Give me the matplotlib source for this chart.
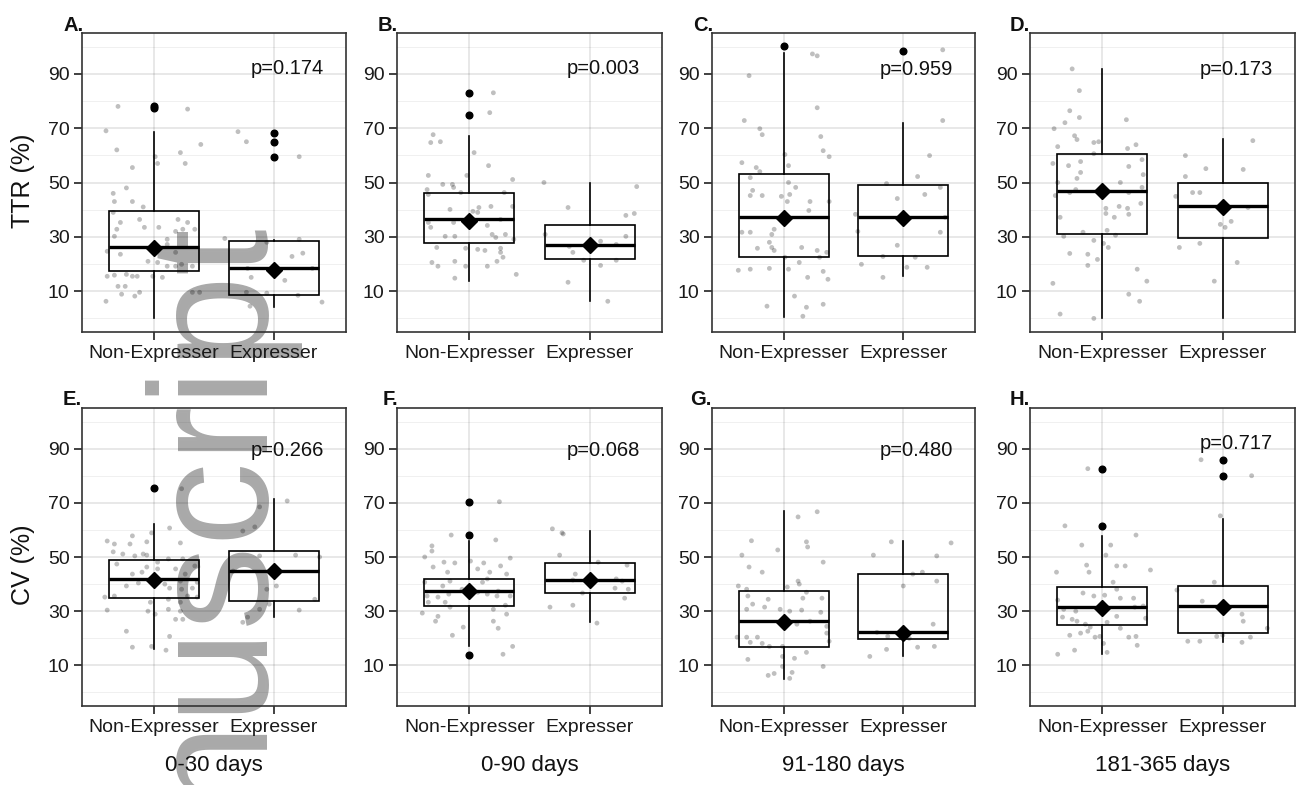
import matplotlib
matplotlib.use("Agg")
import matplotlib.pyplot as plt

plt.rcParams['font.family'] = ['Liberation Sans', 'DejaVu Sans']

# ---------------- data ----------------
categories = ["Non-Expresser", "Expresser"]
panel_tags = ["A.", "B.", "C.", "D.", "E.", "F.", "G.", "H."]
pvals = ["p=0.174", "p=0.003", "p=0.959", "p=0.173", "p=0.266", "p=0.068", "p=0.480", "p=0.717"]
pval_y = [92, 92, 91.5, 91.5, 89.3, 89.3, 89.3, 91.8]
x_titles = ["0-30 days", "0-90 days", "91-180 days", "181-365 days"]
y_titles = ["TTR (%)", "CV (%)"]
y_ticks = [10, 30, 50, 70, 90]

# box statistics per panel (A..H), [Non-Expresser, Expresser]
box_q1 = [[17.3, 8.5], [27.6, 21.7], [22.5, 22.8], [30.9, 29.4], [34.8, 33.7], [31.9, 36.7], [16.7, 19.6], [24.8, 21.9]]
box_med = [[26.1, 18.4], [36.4, 26.9], [37.2, 37.2], [46.7, 41.2], [41.9, 44.8], [37.4, 41.5], [26.3, 22.2], [31.5, 31.9]]
box_q3 = [[39.4, 28.5], [46.3, 34.2], [53.3, 49.0], [60.6, 50.0], [48.9, 52.2], [41.9, 47.8], [37.4, 43.7], [38.9, 39.3]]
whisk_lo = [[0.0, 4.3], [13.7, 6.3], [0.5, 15.5], [0.0, 0.0], [16.0, 27.8], [17.0, 26.0], [5.0, 13.3], [14.1, 18.5]]
whisk_hi = [[68.5, 29.0], [67.0, 50.0], [97.7, 72.0], [91.8, 66.0], [62.2, 71.5], [56.0, 59.6], [67.0, 56.0], [57.8, 64.1]]
group_means = [[26.0, 17.7], [35.7, 27.0], [37.0, 37.0], [47.0, 41.0], [41.5, 45.0], [37.4, 41.5], [26.0, 22.0], [31.0, 31.5]]
outliers = [[[77.5, 78.2], [59.2, 65.0, 68.3]], [[75.0, 83.0], []], [[100.3], [98.5]], [[], []],
            [[75.5], []], [[13.7, 58.1, 70.4], []], [[], []], [[61.5, 82.6], [80.0, 85.9]]]

# jittered observations: (horizontal jitter, value)
A_ne = [(-0.30,78),(-0.40,69),(-0.31,62),(-0.18,55.5),(-0.23,48),(-0.34,46),(-0.33,43),(-0.18,43),(-0.09,41),(0.01,59.5),(0.03,57),(0.22,61),(0.28,77),(0.26,57),(0.39,64),(-0.34,39),(-0.28,35.3),(-0.31,32.8),(-0.33,30.2),(-0.12,36.4),(-0.08,33.5),(0.04,33.5),(0.11,29.1),(0.20,36.4),(0.28,35.3),(0.24,32.8),(0.18,32),(0.34,32.8),(-0.39,24.7),(-0.28,23.6),(0.11,27.2),(0.18,24.3),(-0.05,21),(0.03,20.6),(0.11,19.2),(0.18,19.2),(0.23,19.9),(0.32,19.2),(-0.39,15.5),(-0.33,15.9),(-0.23,16.2),(-0.18,15.5),(-0.01,15.5),(0.07,15.1),(-0.30,11.8),(-0.24,11.8),(-0.14,15.5),(-0.27,8.9),(-0.16,8.2),(-0.12,9.6),(-0.40,6.3),(0.32,9.6),(0.38,9.6)]
A_ex = [(-0.30,68.7),(-0.23,65),(0.21,59.5),(-0.41,29.4),(-0.06,28),(0.21,29.1),(0.15,22.8),(0.24,24),(-0.22,18.4),(-0.19,15.1),(0.09,14),(-0.23,9.6),(-0.06,9.3),(0.20,8.5),(-0.20,4.5),(0.40,6),(0.01,18),(0.32,18.4)]
B_ne = [(-0.30,67.6),(-0.32,64.7),(-0.24,65),(0.04,61),(0.20,83),(0.17,75.7),(0.16,56.2),(-0.34,52.6),(-0.02,52.6),(0.36,51.1),(-0.22,49.3),(-0.14,49.3),(-0.35,47.4),(-0.13,48.2),(-0.34,45.6),(-0.07,46.3),(0.29,46.3),(-0.16,40.1),(0.03,39.4),(0.08,40.8),(0.18,41.2),(0.36,41.2),(-0.34,35.3),(-0.32,33.5),(-0.13,35.3),(0.15,34.2),(0.26,36.4),(-0.20,30.2),(-0.12,30.2),(0.19,30.9),(0.22,29.8),(0.30,30.9),(0.37,29.1),(-0.27,26.1),(-0.03,25.8),(0.07,25.4),(0.13,25),(0.26,25.8),(0.26,24.3),(-0.31,20.6),(-0.26,19.2),(-0.12,21),(-0.03,19.2),(0.15,19.2),(0.23,21),(0.28,22.5),(-0.12,14.8),(0.39,16.2),(0.07,39),(0.00,36.4)]
B_ex = [(-0.38,50),(0.39,48.5),(-0.18,40.8),(0.30,37.9),(0.37,38.6),(-0.37,30.9),(0.30,30.2),(-0.17,26.5),(-0.14,24.3),(0.09,28.4),(-0.05,21.4),(0.22,21.4),(0.09,19.5),(-0.18,13.3),(0.15,6.3),(0.22,27.2)]
C_ne = [(-0.29,89.3),(0.24,97.3),(0.28,96.6),(-0.33,72.8),(-0.20,69.8),(-0.18,67.6),(0.28,77.5),(0.31,66.9),(0.33,61.7),(0.38,59.5),(0.01,60.3),(-0.35,57.3),(0.04,56.2),(-0.28,51.8),(-0.23,55.5),(-0.20,54),(-0.28,45.2),(-0.26,47.1),(-0.18,45.2),(-0.02,44.9),(0.04,50),(0.05,45.6),(0.10,48.2),(0.03,43),(0.22,43),(0.21,39.7),(0.38,43),(-0.35,31.7),(-0.28,31.7),(-0.22,25.8),(-0.12,28),(-0.10,30.9),(-0.08,32.8),(-0.10,26.1),(-0.08,25),(0.15,26.1),(0.28,25),(0.30,22.5),(0.36,24.3),(-0.38,17.7),(-0.28,18.1),(-0.12,18.4),(0.04,18.1),(0.13,20.6),(0.20,15.1),(0.33,17.3),(0.37,14.4),(-0.14,4.5),(0.09,8.2),(0.19,4.1),(0.33,5.2),(0.16,0.8),(0.01,22.5)]
C_ex = [(0.33,98.8),(0.33,72.8),(0.22,59.9),(0.12,52.2),(-0.14,49.6),(0.31,48.2),(-0.05,44.1),(0.18,45.6),(-0.40,38.3),(0.35,37.2),(-0.38,32),(0.31,31.7),(-0.05,26.9),(-0.35,19.9),(-0.17,22.8),(0.10,22.5),(0.03,18.8),(0.20,18.8),(-0.17,15.1)]
D_ne = [(-0.25,91.8),(-0.19,83.8),(-0.27,76.4),(-0.31,72),(-0.19,73.9),(0.20,73.1),(-0.40,69.8),(-0.23,67.2),(-0.21,65.8),(-0.07,64.7),(-0.03,65),(-0.37,63.2),(0.28,63.9),(0.21,62.5),(-0.07,60.6),(0.33,58.4),(-0.18,57.7),(-0.28,56.2),(-0.41,57),(0.22,55.9),(-0.18,53.7),(0.34,52.9),(-0.37,50),(-0.21,51.5),(0.15,50),(-0.39,45.2),(-0.27,46.3),(-0.22,47.4),(0.33,48.2),(0.22,46.3),(0.03,40.5),(0.14,41.2),(0.21,40.5),(0.22,38.3),(0.32,42.3),(0.03,38.6),(0.10,37.2),(-0.35,37.2),(-0.16,31.7),(0.04,32.4),(0.11,30.6),(-0.32,30.2),(-0.07,28.7),(0.01,27.6),(0.05,26.1),(-0.27,23.9),(-0.12,23.6),(-0.12,19.5),(-0.04,21.7),(0.29,18.1),(-0.41,12.9),(0.37,13.7),(0.22,8.9),(0.31,6.3),(-0.35,1.6),(-0.07,0)]
D_ex = [(0.25,65.4),(-0.31,59.9),(-0.14,55.1),(0.17,54.8),(-0.31,52.2),(-0.25,46.3),(-0.19,46.3),(-0.39,44.9),(0.21,40.8),(-0.02,34.6),(0.02,33.5),(0.07,35.7),(-0.36,26.1),(-0.19,27.6),(0.12,20.6),(-0.07,13.7),(0.00,41.2)]
E_ne = [(0.23,75.2),(0.13,60.7),(0.22,55.2),(-0.39,55.9),(-0.33,54.8),(-0.18,57.8),(-0.20,54.8),(-0.06,55.6),(-0.02,58.9),(-0.34,51.9),(-0.26,51.1),(-0.16,50.4),(-0.09,51.1),(-0.06,50.7),(0.12,49.3),(0.03,48.1),(0.24,49.3),(-0.31,47.4),(-0.06,46.3),(0.03,45.6),(0.18,45.6),(0.34,46.7),(-0.18,43.7),(-0.10,44.4),(0.26,43.7),(-0.23,39.3),(-0.13,40.4),(0.09,40),(0.22,41.1),(0.36,40.7),(0.13,38.5),(0.23,38.1),(0.32,38.5),(0.36,35.2),(-0.41,35.2),(-0.33,35.6),(-0.03,33.3),(0.12,34.4),(0.22,33.3),(0.28,35.6),(-0.39,30.4),(-0.05,30),(0.01,28.9),(0.12,30.7),(0.22,30),(0.24,27),(0.18,27),(-0.23,22.6),(0.13,20.7),(-0.18,16.7),(0.10,15.6),(-0.02,17)]
E_ex = [(0.11,70.7),(-0.12,68.5),(-0.26,59.6),(-0.16,61.1),(-0.12,50.4),(0.18,50.7),(0.38,50),(-0.34,44.8),(-0.06,38.1),(0.02,39.3),(0.34,34.4),(-0.04,32.6),(-0.12,30.7),(0.21,30.4),(-0.22,27.8),(-0.26,25.9)]
F_ne = [(0.25,70.4),(-0.15,58.1),(0.22,56.3),(-0.31,54.1),(-0.31,52.2),(-0.37,50),(0.34,49.6),(-0.21,48.1),(0.01,48.5),(0.12,47.8),(-0.12,47.8),(0.26,46.7),(-0.30,46.3),(-0.18,44.4),(0.07,45.6),(0.17,44.4),(0.31,43.7),(-0.37,40.7),(-0.22,39.3),(-0.16,41.1),(0.11,40.7),(0.15,41.9),(-0.06,38.1),(0.07,37),(0.24,37.4),(-0.35,35.6),(-0.26,35.2),(-0.17,36.3),(0.15,36.3),(0.23,35.6),(0.34,35.6),(-0.34,33.3),(-0.20,33.3),(-0.16,31.5),(0.20,30.7),(0.30,32.2),(-0.39,29.3),(-0.26,28.1),(-0.28,26.3),(0.20,26.3),(0.31,28.9),(-0.05,24.1),(0.24,23.7),(-0.14,21.1),(0.36,17),(0.28,14.1)]
F_ex = [(-0.31,60.4),(-0.23,58.9),(-0.22,58.5),(-0.25,50.7),(0.07,48.1),(0.31,47),(-0.12,43.7),(0.22,41.9),(0.27,41.1),(-0.14,41.5),(-0.06,36.7),(0.21,38.5),(0.32,38.1),(0.29,34.8),(-0.33,31.5),(-0.14,32.2),(0.06,25.6)]
G_ne = [(-0.27,56),(-0.35,50.7),(-0.29,46.3),(-0.18,44.4),(0.12,64.8),(0.28,66.7),(0.19,55.6),(0.20,53.7),(-0.05,52.6),(0.33,48.1),(-0.38,39.3),(-0.31,38.1),(0.12,41.1),(0.13,40),(0.19,37),(0.03,38.9),(-0.30,35.6),(-0.13,34.4),(-0.26,32.6),(-0.16,31.5),(0.16,34.8),(0.32,34.8),(-0.31,30.7),(-0.03,30.7),(0.05,30),(0.15,30.4),(0.31,29.6),(0.02,25.9),(0.11,25.2),(0.22,26.3),(0.36,24.4),(-0.39,20.4),(-0.31,20.4),(-0.22,20.4),(-0.28,18.5),(-0.18,18.1),(-0.12,17),(-0.30,12.2),(-0.01,17),(-0.01,13.3),(0.09,12.6),(0.19,14.8),(-0.01,9.6),(0.07,7.4),(-0.08,7),(-0.13,6.3),(0.05,5.2),(0.33,9.6),(0.36,21.9),(0.38,18.9)]
G_ex = [(-0.10,55.6),(0.40,55.2),(-0.25,50.7),(0.28,50.4),(0.16,44.4),(0.08,43.7),(0.28,41.1),(0.00,39.3),(0.25,25.2),(-0.22,22.2),(-0.13,20.7),(0.05,20),(0.12,16.7),(0.26,17),(-0.14,15.9),(-0.28,13.3)]
H_ne = [(-0.12,82.6),(-0.31,61.5),(0.28,58.1),(-0.17,54.4),(0.07,54.4),(0.03,50.7),(-0.38,44.4),(-0.13,47),(-0.11,44.4),(0.12,46.7),(0.19,46.7),(0.40,45.2),(0.09,40.7),(0.12,38.1),(-0.37,34.1),(-0.16,36.7),(-0.07,35.6),(0.02,35.9),(0.15,34.8),(0.26,34.8),(0.34,31.9),(-0.32,30.7),(-0.22,30),(-0.33,27.8),(-0.25,27),(-0.21,26.3),(0.02,30.7),(0.12,28.1),(0.27,31.5),(0.36,27.4),(-0.14,25.2),(-0.10,24.1),(0.04,25.9),(-0.12,22.6),(-0.27,21.1),(-0.18,21.9),(-0.06,20.4),(-0.02,20.7),(0.22,20.4),(0.28,20.7),(0.29,17.4),(-0.23,15.6),(-0.37,14.1),(0.04,14.8),(0.01,18.1),(0.15,23.7)]
H_ex = [(-0.18,85.9),(0.24,80),(-0.02,65.2),(-0.07,40.7),(-0.38,37.8),(-0.17,33.7),(0.16,28.9),(0.17,26.3),(0.37,23.7),(-0.05,20.7),(-0.29,18.9),(-0.19,18.9),(0.16,18.5),(0.23,20.4),(0.00,21.1)]

jitter_groups = [(A_ne, A_ex), (B_ne, B_ex), (C_ne, C_ex), (D_ne, D_ex),
                 (E_ne, E_ex), (F_ne, F_ex), (G_ne, G_ex), (H_ne, H_ex)]

# ---------------- layout (pixels) ----------------
W, H = 1299, 785
col_left = [82, 397, 712, 1030]
col_right = [346, 662, 975, 1295]
row_top = [33, 408]
row_bot = [332, 706]
tag_x = [63, 378, 693, 1010, 63, 383, 690, 1010]
tag_base = [31, 405]
ytitle_cy = [181, 565]

fig = plt.figure(figsize=(W / 100, H / 100), dpi=100)
fig.patch.set_facecolor('white')

# translucent darks emulate a "multiply" look over the watermark below
point_col = (0, 0, 0, 0.25)

# watermark (behind the panels, whose backgrounds are transparent)
fig.text(268 / W, 1 - 228 / H, "Author Manuscript", rotation=90, rotation_mode='anchor',
         ha='right', va='baseline', fontsize=121, color='#a9a9a9', zorder=-5)

for i in range(8):
    r, c = divmod(i, 4)
    ax = fig.add_axes([col_left[c] / W, 1 - row_bot[r] / H,
                       (col_right[c] - col_left[c]) / W, (row_bot[r] - row_top[r]) / H])
    ax.patch.set_alpha(0)
    ax.set_xlim(0.4, 2.6)
    ax.set_ylim(-5, 105)
    ax.set_yticks(y_ticks)
    ax.set_yticks([0, 20, 40, 60, 80, 100], minor=True)
    ax.set_xticks([1, 2])
    ax.set_xticklabels(categories)
    ax.grid(which='major', color='black', alpha=0.11, linewidth=1.2)
    ax.grid(which='minor', axis='y', color='black', alpha=0.06, linewidth=0.7)
    ax.set_axisbelow(True)
    ax.tick_params(which='major', labelsize=14, length=6, width=1.3, color='#333333',
                   labelcolor='#1a1a1a', pad=3)
    ax.tick_params(which='minor', length=0)
    for sp in ax.spines.values():
        sp.set_color('#333333')
        sp.set_linewidth(1.2)

    stats = []
    for g in range(2):
        stats.append(dict(q1=box_q1[i][g], med=box_med[i][g], q3=box_q3[i][g],
                          whislo=whisk_lo[i][g], whishi=whisk_hi[i][g],
                          fliers=outliers[i][g]))
    ax.bxp(stats, positions=[1, 2], widths=0.75, showcaps=False, showfliers=True,
           patch_artist=True, manage_ticks=False,
           boxprops=dict(facecolor='none', edgecolor='black', linewidth=1.2),
           medianprops=dict(color='black', linewidth=2.4),
           whiskerprops=dict(color='black', linewidth=1.2),
           flierprops=dict(marker='o', markerfacecolor='black', markeredgecolor='black',
                           markersize=4.8))

    for g, pts in enumerate(jitter_groups[i]):
        xs = [g + 1 + d for d, v in pts]
        ys = [v for d, v in pts]
        ax.scatter(xs, ys, s=12, color=point_col, edgecolors='none', zorder=3)

    ax.plot([1, 2], group_means[i], linestyle='none', marker='D', markersize=8,
            color='black', zorder=4)

    ax.text(2.11, pval_y[i], pvals[i], ha='center', va='center', fontsize=14.5, color='#111111')

    fig.text(tag_x[i] / W, 1 - tag_base[r] / H, panel_tags[i], fontsize=14.5,
             fontweight='bold', ha='left', va='baseline', color='#111111')

    if c == 0:
        fig.text(23 / W, 1 - ytitle_cy[r] / H, y_titles[r], rotation=90, ha='center',
                 va='center', fontsize=18, color='#111111')
    if r == 1:
        fig.text((col_left[c] + col_right[c]) / 2 / W, 1 - 765 / H, x_titles[c],
                 ha='center', va='center', fontsize=16, color='#111111')

fig.savefig("out.png", dpi=100, facecolor='white')
